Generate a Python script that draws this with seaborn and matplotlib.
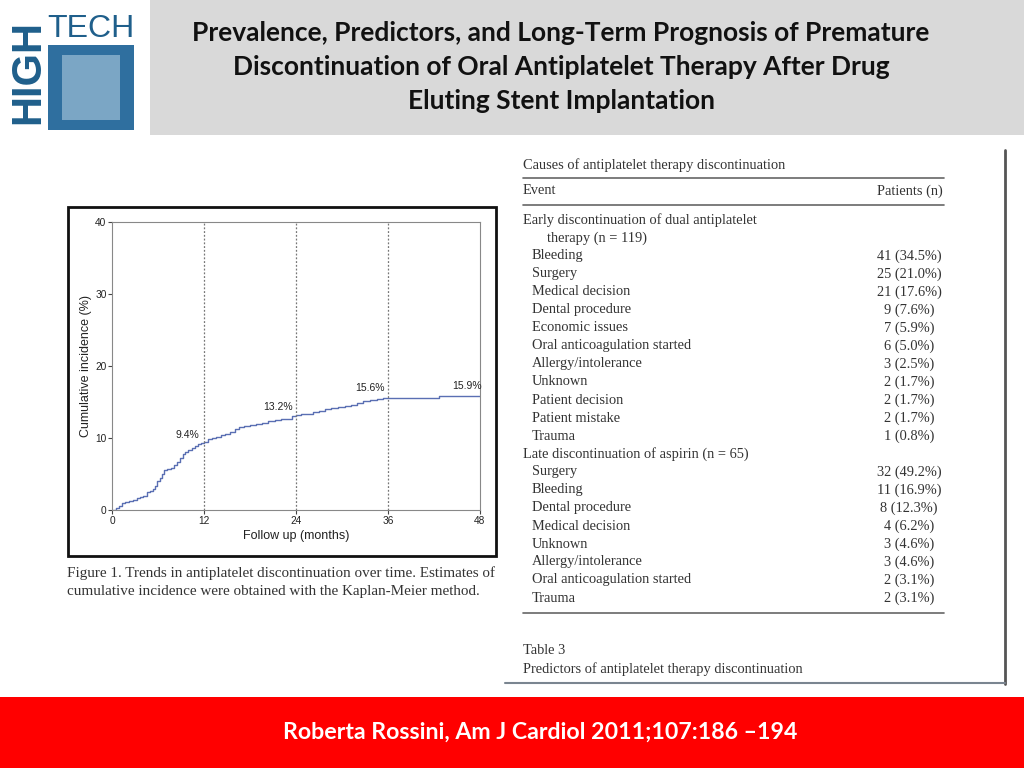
import matplotlib
matplotlib.use("Agg")
import matplotlib.pyplot as plt
import seaborn as sns
import pandas as pd
from matplotlib.patches import Rectangle
from matplotlib.lines import Line2D

# ---------------- data ----------------
months = [0, 0.5, 0.9, 1.3, 1.7, 2.2, 2.7, 3.2, 3.7, 4.1, 4.5, 4.9, 5.3, 5.6, 5.9, 6.2, 6.5, 6.8,
          7.2, 7.7, 8.1, 8.5, 8.9, 9.2, 9.5, 9.9, 10.4, 10.8, 11.2, 11.6, 12.0, 12.5, 13.0, 13.6,
          14.2, 14.8, 15.4, 16.0, 16.6, 17.2, 18.0, 18.8, 19.6, 20.4, 21.2, 22.0, 22.8, 23.5,
          24.0, 24.6, 25.3, 26.2, 27.0, 27.8, 28.6, 29.5, 30.4, 31.2, 32.0, 32.8, 33.6, 34.5,
          35.3, 36.0, 42.6, 48]
incidence = [0, 0.3, 0.6, 1.0, 1.1, 1.3, 1.4, 1.6, 1.8, 2.0, 2.5, 2.7, 2.9, 3.4, 4.0, 4.5, 5.0, 5.6,
             5.7, 5.9, 6.3, 6.6, 7.2, 7.8, 8.1, 8.3, 8.6, 8.9, 9.2, 9.3, 9.4, 9.8, 10.0, 10.2,
             10.4, 10.6, 10.9, 11.2, 11.5, 11.7, 11.8, 11.9, 12.1, 12.3, 12.5, 12.6, 12.7, 13.0,
             13.2, 13.4, 13.4, 13.6, 13.8, 14.0, 14.2, 14.3, 14.4, 14.6, 14.8, 15.1, 15.3, 15.4,
             15.5, 15.6, 15.9, 15.9]
milestone_months = [12, 24, 36, 48]
milestone_labels = ["9.4%", "13.2%", "15.6%", "15.9%"]
milestone_label_pos = [(9.8, 10.4), (21.7, 14.3), (33.7, 16.9), (46.3, 17.2)]
x_ticks = [0, 12, 24, 36, 48]
y_ticks = [0, 10, 20, 30, 40]

title_lines = ["Prevalence, Predictors, and Long-Term Prognosis of Premature",
               "Discontinuation of Oral Antiplatelet Therapy After Drug",
               "Eluting Stent Implantation"]
footer = "Roberta Rossini, Am J Cardiol 2011;107:186 \u2013194"

early_causes = ["Bleeding", "Surgery", "Medical decision", "Dental procedure", "Economic issues",
                "Oral anticoagulation started", "Allergy/intolerance", "Unknown",
                "Patient decision", "Patient mistake", "Trauma"]
early_values = ["41 (34.5%)", "25 (21.0%)", "21 (17.6%)", "9 (7.6%)", "7 (5.9%)", "6 (5.0%)",
                "3 (2.5%)", "2 (1.7%)", "2 (1.7%)", "2 (1.7%)", "1 (0.8%)"]
late_causes = ["Surgery", "Bleeding", "Dental procedure", "Medical decision", "Unknown",
               "Allergy/intolerance", "Oral anticoagulation started", "Trauma"]
late_values = ["32 (49.2%)", "11 (16.9%)", "8 (12.3%)", "4 (6.2%)", "3 (4.6%)", "3 (4.6%)",
               "2 (3.1%)", "2 (3.1%)"]

# ---------------- figure ----------------
sns.set_theme(style="white")
plt.rcParams['font.family'] = ['Liberation Sans', 'DejaVu Sans']

W, H = 1024, 768
fig = plt.figure(figsize=(W / 100, H / 100), dpi=100)
fig.patch.set_facecolor("white")

def fx(x):
    return x / W

def fy(y):
    return 1 - y / H

def rect(x0, y0, x1, y1, **kw):
    fig.add_artist(Rectangle((fx(x0), fy(y1)), fx(x1) - fx(x0), fy(y0) - fy(y1),
                             transform=fig.transFigure, **kw))

def hline(x0, x1, y, **kw):
    fig.add_artist(Line2D([fx(x0), fx(x1)], [fy(y), fy(y)], transform=fig.transFigure, **kw))

def vline(x, y0, y1, **kw):
    fig.add_artist(Line2D([fx(x), fx(x)], [fy(y0), fy(y1)], transform=fig.transFigure, **kw))

def txt(x, y, s, **kw):
    fig.text(fx(x), fy(y), s, **kw)

# header band
rect(0, 0, 1024, 135, facecolor="#d9d9d9", edgecolor="none")
# logo
rect(0, 0, 150, 135, facecolor="white", edgecolor="none")
rect(48, 45, 134, 130, facecolor="#2f6f9f", edgecolor="none")
rect(62, 55, 120, 120, facecolor="#8fb4cf", edgecolor="none", alpha=0.8)
txt(91, 29, "TECH", ha="center", va="center", fontsize=23, color="#1f5f8b",
    family=["Liberation Sans"])
txt(28, 72, "HIGH", ha="center", va="center", fontsize=30, color="#1f5f8b",
    fontweight="bold", rotation=90, family=["Liberation Sans"])

# title
for i, line in enumerate(title_lines):
    txt(561, 33 + 34 * i, line, ha="center", va="center", fontsize=19,
        fontweight="bold", color="#111111", family=["Lato", "DejaVu Sans"])

# footer band
rect(0, 697, 1024, 768, facecolor="#ff0000", edgecolor="none")
txt(540, 732, footer, ha="center", va="center", fontsize=16.7, fontweight="bold",
    color="white", family=["Lato", "DejaVu Sans"])

# chart frame
rect(68, 207, 496, 556, facecolor="none", edgecolor="#111111", lw=2)

# chart axes
ax = fig.add_axes([fx(112), fy(510), (480 - 112) / W, (510 - 222) / H])
df = pd.DataFrame({"Follow up (months)": months, "Cumulative incidence (%)": incidence})
sns.lineplot(data=df, x="Follow up (months)", y="Cumulative incidence (%)", ax=ax,
             drawstyle="steps-post", estimator=None, color="#5a6fb3", lw=1.0)
for m in milestone_months[:3]:
    ax.axvline(m, color="#777777", ls=(0, (1.5, 1.5)), lw=0.9)
for s, (lx, ly) in zip(milestone_labels, milestone_label_pos):
    ax.text(lx, ly, s, ha="center", va="center", fontsize=7.5, color="#222222")
ax.set_xlim(0, 48)
ax.set_ylim(0, 40)
ax.set_xticks(x_ticks)
ax.set_yticks(y_ticks)
ax.tick_params(axis="both", direction="out", length=3, width=0.8, labelsize=7.3,
               colors="#444444", labelcolor="#222222", bottom=True, left=True, pad=1)
for sp in ax.spines.values():
    sp.set_color("#888888")
    sp.set_linewidth(0.8)
ax.set_xlabel("Follow up (months)", fontsize=9, color="#222222", labelpad=3)
ax.set_ylabel("Cumulative incidence (%)", fontsize=9, color="#222222", labelpad=2)
ax.set_facecolor("white")

# figure caption
serif = ["Liberation Serif", "DejaVu Serif"]
txt(67, 573, "Figure 1. Trends in antiplatelet discontinuation over time. Estimates of",
    ha="left", va="center", fontsize=10.9, color="#333333", family=serif)
txt(67, 591, "cumulative incidence were obtained with the Kaplan-Meier method.",
    ha="left", va="center", fontsize=10.9, color="#333333", family=serif)

# table
tc = "#333333"
tfs = 10.4
vline(1005, 150, 684, color="#555555", lw=2)
hline(505, 1005, 683, color="#7a8590", lw=1.5)
txt(523, 165, "Causes of antiplatelet therapy discontinuation", ha="left", va="center",
    fontsize=tfs, color=tc, family=serif)
hline(523, 944, 178, color="#666666", lw=1.2)
txt(523, 191, "Event", ha="left", va="center", fontsize=tfs, color=tc, family=serif)
txt(943, 191, "Patients (n)", ha="right", va="center", fontsize=tfs, color=tc, family=serif)
hline(523, 944, 205, color="#666666", lw=1.2)
txt(523, 220, "Early discontinuation of dual antiplatelet", ha="left", va="center",
    fontsize=tfs, color=tc, family=serif)
txt(547, 238, "therapy (n = 119)", ha="left", va="center", fontsize=tfs, color=tc, family=serif)
y = 256
for c, v in zip(early_causes, early_values):
    txt(532, y, c, ha="left", va="center", fontsize=tfs, color=tc, family=serif)
    txt(909, y, v, ha="center", va="center", fontsize=tfs, color=tc, family=serif)
    y += 18
txt(523, y, "Late discontinuation of aspirin (n = 65)", ha="left", va="center",
    fontsize=tfs, color=tc, family=serif)
y += 18
for c, v in zip(late_causes, late_values):
    txt(532, y, c, ha="left", va="center", fontsize=tfs, color=tc, family=serif)
    txt(909, y, v, ha="center", va="center", fontsize=tfs, color=tc, family=serif)
    y += 18
hline(523, 944, 613, color="#666666", lw=1.2)
txt(523, 651, "Table 3", ha="left", va="center", fontsize=tfs, color=tc, family=serif)
txt(523, 669, "Predictors of antiplatelet therapy discontinuation", ha="left", va="center",
    fontsize=tfs, color=tc, family=serif)

fig.savefig("out.png", dpi=100)
